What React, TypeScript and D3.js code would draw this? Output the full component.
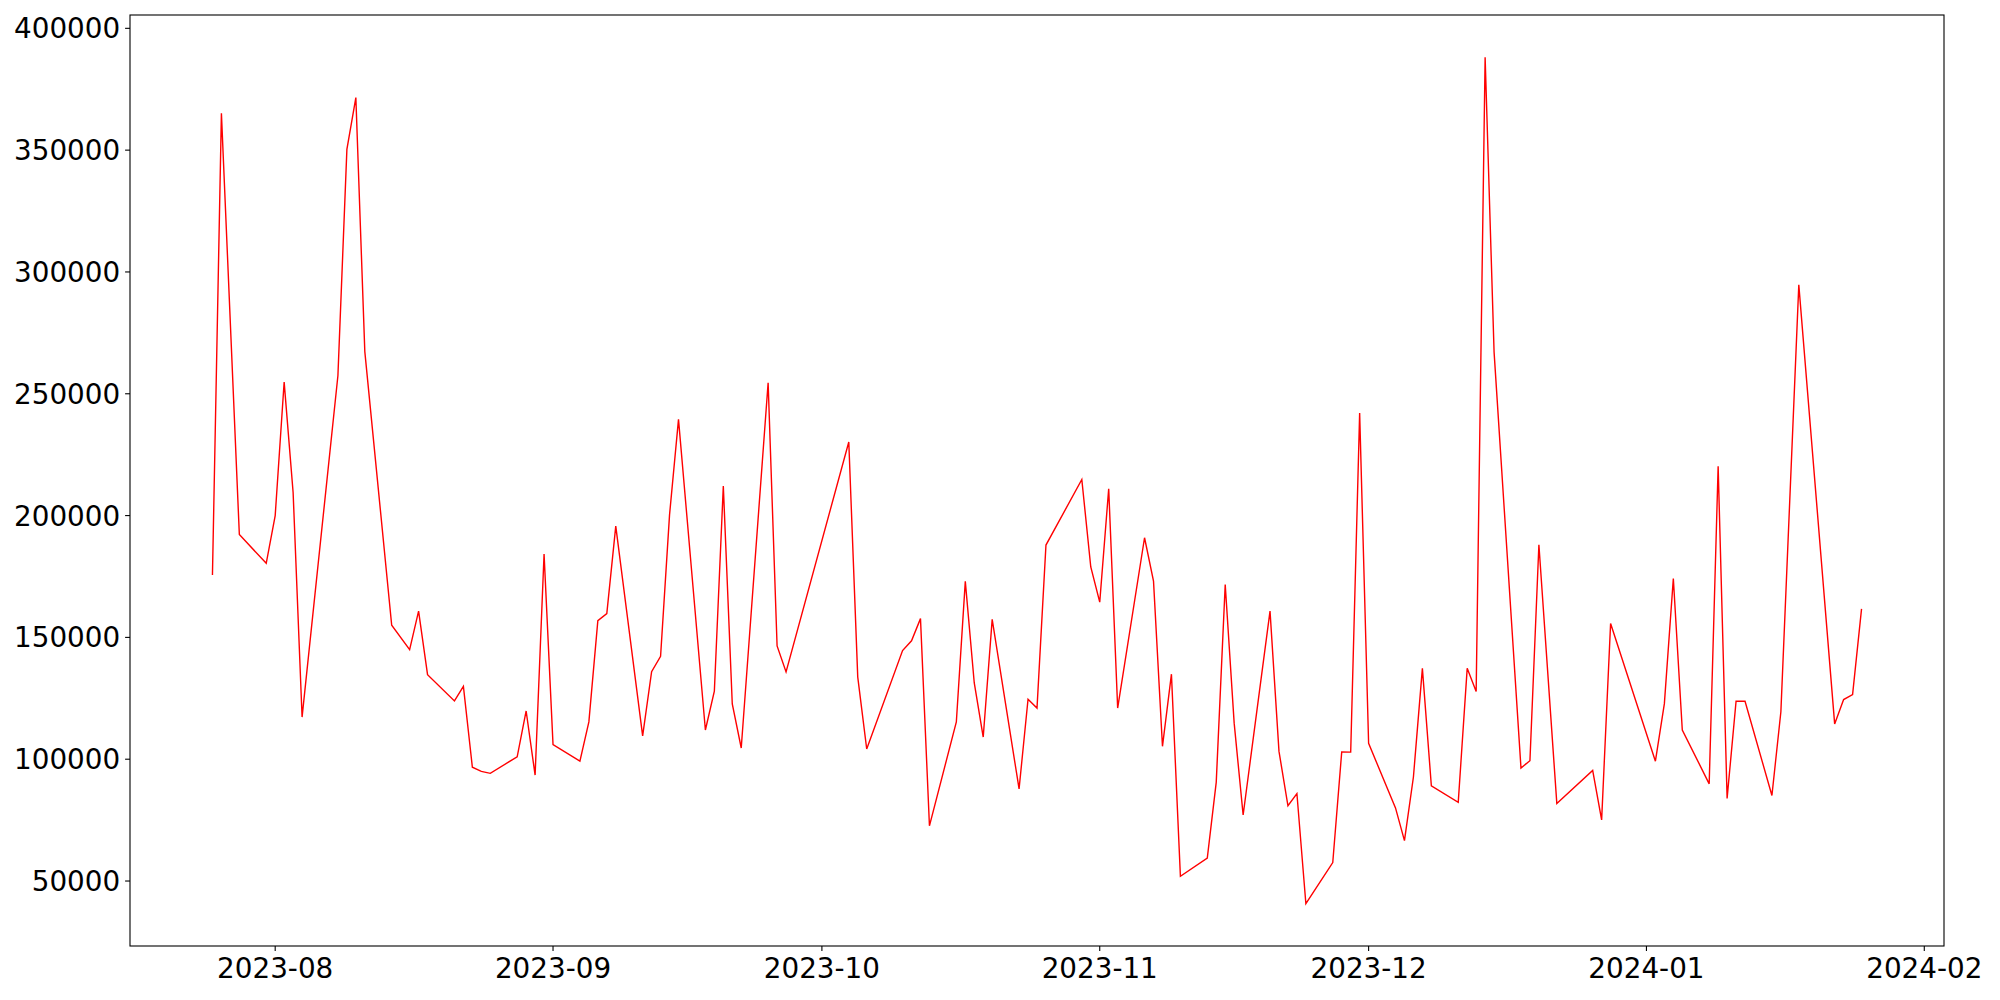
import React from "react";
import * as d3 from "d3";

const dates: string[] = [
  "2023-07-25", "2023-07-26", "2023-07-28", "2023-07-31",
  "2023-08-01", "2023-08-02", "2023-08-03", "2023-08-04", "2023-08-08", "2023-08-09", "2023-08-10", "2023-08-11",
  "2023-08-14", "2023-08-16", "2023-08-17", "2023-08-18", "2023-08-21", "2023-08-22", "2023-08-23", "2023-08-24",
  "2023-08-25", "2023-08-28", "2023-08-29", "2023-08-30", "2023-08-31",
  "2023-09-01", "2023-09-04", "2023-09-05", "2023-09-06", "2023-09-07", "2023-09-08", "2023-09-11", "2023-09-12",
  "2023-09-13", "2023-09-14", "2023-09-15", "2023-09-18", "2023-09-19", "2023-09-20", "2023-09-21", "2023-09-22",
  "2023-09-25", "2023-09-26", "2023-09-27",
  "2023-10-04", "2023-10-05", "2023-10-06", "2023-10-10", "2023-10-11", "2023-10-12", "2023-10-13", "2023-10-16",
  "2023-10-17", "2023-10-18", "2023-10-19", "2023-10-20", "2023-10-23", "2023-10-24", "2023-10-25", "2023-10-26",
  "2023-10-30", "2023-10-31",
  "2023-11-01", "2023-11-02", "2023-11-03", "2023-11-06", "2023-11-07", "2023-11-08", "2023-11-09", "2023-11-10",
  "2023-11-13", "2023-11-14", "2023-11-15", "2023-11-16", "2023-11-17", "2023-11-20", "2023-11-21", "2023-11-22",
  "2023-11-23", "2023-11-24", "2023-11-27", "2023-11-28", "2023-11-29", "2023-11-30",
  "2023-12-01", "2023-12-04", "2023-12-05", "2023-12-06", "2023-12-07", "2023-12-08", "2023-12-11", "2023-12-12",
  "2023-12-13", "2023-12-14", "2023-12-15", "2023-12-18", "2023-12-19", "2023-12-20", "2023-12-22", "2023-12-26",
  "2023-12-27", "2023-12-28",
  "2024-01-02", "2024-01-03", "2024-01-04", "2024-01-05", "2024-01-08", "2024-01-09", "2024-01-10", "2024-01-11",
  "2024-01-12", "2024-01-15", "2024-01-16", "2024-01-18", "2024-01-22", "2024-01-23", "2024-01-24", "2024-01-25",
];

const values: number[] = [
  175600, 365100, 192200, 180400,
  200000, 254800, 209500, 117300, 257500, 350300, 371600, 267300,
  155000, 145000, 160800, 134700, 123900, 129900, 96700, 95000,
  94200, 101000, 119800, 93500, 184200,
  106000, 99200, 115300, 156900, 159800, 195700, 109600, 135900,
  142200, 200300, 239500, 112000, 127900, 212100, 122700, 104600,
  254500, 146500, 135800,
  230200, 133700, 104200, 144600, 148600, 157700, 72650, 115300,
  173000, 131300, 109100, 157400, 87800, 124600, 121000, 187900,
  214800, 178900,
  164500, 211000, 121000, 190900, 173100, 105300, 134900, 51950,
  59400, 90600, 171700, 114800, 77100, 160800, 103200, 80900,
  85900, 40700, 57600, 103000, 102900, 242100,
  106500, 80000, 66600, 92700, 137300, 89100, 82300, 137300,
  127800, 388100, 267100, 96400, 99400, 188000, 81800, 95400,
  75100, 155700,
  99200, 122800, 174200, 112000, 89900, 220200, 83900, 123800,
  123800, 85100, 119500, 294700, 114500, 124500, 126500, 161700,
];

const yTicks: number[] = [50000, 100000, 150000, 200000, 250000, 300000, 350000, 400000];
const xTickDates: string[] = ["2023-08-01", "2023-09-01", "2023-10-01", "2023-11-01", "2023-12-01", "2024-01-01", "2024-02-01"];
const xTickLabels: string[] = ["2023-08", "2023-09", "2023-10", "2023-11", "2023-12", "2024-01", "2024-02"];

const W = 2000;
const H = 1000;
const M = { left: 130, right: 56, top: 15, bottom: 54 };
const FONT = "'DejaVu Sans', sans-serif";
const FS = 27.8;
const TICK = 4.9;

export default function App() {
  const parse = d3.utcParse("%Y-%m-%d");
  const pts = dates.map((d, i) => ({ date: parse(d) as Date, value: values[i] }));

  const xExt = d3.extent(pts, (p) => p.date.getTime()) as [number, number];
  const xPad = (xExt[1] - xExt[0]) * 0.05;
  const yExt = d3.extent(pts, (p) => p.value) as [number, number];
  const yPad = (yExt[1] - yExt[0]) * 0.05;

  const x = d3
    .scaleUtc()
    .domain([new Date(xExt[0] - xPad), new Date(xExt[1] + xPad)])
    .range([M.left, W - M.right]);
  const y = d3
    .scaleLinear()
    .domain([yExt[0] - yPad, yExt[1] + yPad])
    .range([H - M.bottom, M.top]);

  const line = d3
    .line<{ date: Date; value: number }>()
    .x((p) => x(p.date))
    .y((p) => y(p.value));

  const bottom = H - M.bottom;

  return (
    <div style={{ position: "fixed", left: 0, top: 0 }}>
      <svg width={W} height={H} style={{ display: "block", background: "#fff" }}>
        <rect x={0} y={0} width={W} height={H} fill="#fff" />
        <path d={line(pts) || ""} fill="none" stroke="#ff0000" strokeWidth={1.4} strokeLinejoin="miter" />
        <rect
          x={M.left}
          y={M.top}
          width={W - M.left - M.right}
          height={H - M.top - M.bottom}
          fill="none"
          stroke="#000"
          strokeWidth={1.1}
        />
        {yTicks.map((t) => (
          <g key={t}>
            <line x1={M.left - TICK} x2={M.left} y1={y(t)} y2={y(t)} stroke="#000" strokeWidth={1.1} />
            <text
              x={M.left - TICK - 4.9}
              y={y(t) + 10}
              textAnchor="end"
              fontFamily={FONT}
              fontSize={FS}
              fill="#000"
            >
              {t}
            </text>
          </g>
        ))}
        {xTickDates.map((d, i) => {
          const xx = x(parse(d) as Date);
          return (
            <g key={d}>
              <line x1={xx} x2={xx} y1={bottom} y2={bottom + TICK} stroke="#000" strokeWidth={1.1} />
              <text x={xx} y={bottom + 32} textAnchor="middle" fontFamily={FONT} fontSize={FS} fill="#000">
                {xTickLabels[i]}
              </text>
            </g>
          );
        })}
      </svg>
    </div>
  );
}
